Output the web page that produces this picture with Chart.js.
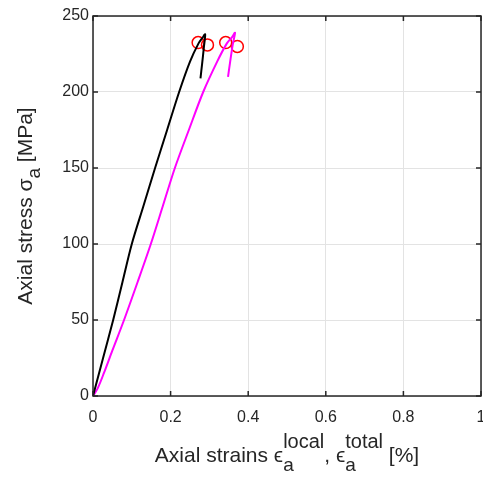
<!DOCTYPE html>
<html>
<head>
<meta charset="utf-8">
<script src="https://cdn.jsdelivr.net/npm/chart.js@4"></script>
<style>
  body { margin: 0; background: #fff; }
  #wrap { width: 483px; height: 477px; position: relative; }
</style>
</head>
<body>
<div id="wrap"><canvas id="c"></canvas></div>
<script>
// local strain (black) loading + unloading branch
const localStrain = [0, 0.026, 0.052, 0.076, 0.100, 0.130, 0.160, 0.191, 0.222, 0.250, 0.272, 0.283, 0.289, 0.286, 0.281, 0.277];
const localStress = [0, 25, 50, 75, 100, 125, 150, 175, 200, 220, 232, 236, 238, 230, 218, 209];

// total strain (magenta)
const totalStrain = [0, 0.012, 0.028, 0.050, 0.080, 0.115, 0.149, 0.180, 0.211, 0.247, 0.284, 0.320, 0.345, 0.358, 0.366, 0.360, 0.353, 0.348];
const totalStress = [0, 5, 15, 30, 50, 75, 100, 125, 150, 175, 200, 220, 232, 236, 239, 231, 219, 210];

// failure markers
const markStrain = [0.271, 0.295, 0.342, 0.372];
const markStress = [232.5, 231, 232.5, 230];

const xTicks = [0, 0.2, 0.4, 0.6, 0.8, 1];
const yTicks = [0, 50, 100, 150, 200, 250];

const toPts = (xs, ys) => xs.map((x, i) => ({ x: x, y: ys[i] }));

const FONT = "'Liberation Sans', Arial, sans-serif";
const AXIS_COLOR = '#262626';

// box, inward ticks and axis titles with sub/superscripts
const axesDecor = {
    id: 'axesDecor',
    afterDraw(chart) {
        const ctx = chart.ctx;
        const a = chart.chartArea;
        const xs = chart.scales.x, ys = chart.scales.y;
        ctx.save();
        ctx.strokeStyle = AXIS_COLOR;
        ctx.lineWidth = 1.5;
        const tl = 5;
        ctx.beginPath();
        xTicks.forEach(v => {
            const px = xs.getPixelForValue(v);
            ctx.moveTo(px, a.bottom); ctx.lineTo(px, a.bottom - tl);
            ctx.moveTo(px, a.top); ctx.lineTo(px, a.top + tl);
        });
        yTicks.forEach(v => {
            const py = ys.getPixelForValue(v);
            ctx.moveTo(a.left, py); ctx.lineTo(a.left + tl, py);
            ctx.moveTo(a.right, py); ctx.lineTo(a.right - tl, py);
        });
        ctx.stroke();
        ctx.strokeRect(a.left, a.top, a.right - a.left, a.bottom - a.top);

        ctx.fillStyle = AXIS_COLOR;
        ctx.textBaseline = 'alphabetic';
        ctx.textAlign = 'left';

        // pieces: [text, size, baseline shift, stacked-with-previous]
        const drawPieces = (pieces, cx, by) => {
            const widths = pieces.map(p => {
                ctx.font = p[1] + 'px ' + FONT;
                return ctx.measureText(p[0]).width;
            });
            const pos = [];
            let x = 0, prevStart = 0, prevW = 0;
            pieces.forEach((p, i) => {
                if (p[3]) {
                    pos.push(prevStart);
                    prevW = Math.max(prevW, widths[i]);
                    x = prevStart + prevW;
                } else {
                    pos.push(x);
                    prevStart = x;
                    prevW = widths[i];
                    x += widths[i];
                }
            });
            const x0 = cx - x / 2;
            pieces.forEach((p, i) => {
                ctx.font = p[1] + 'px ' + FONT;
                ctx.fillText(p[0], x0 + pos[i], by + p[2]);
            });
        };

        const cx = (a.left + a.right) / 2;
        drawPieces([
            ['Axial strains ', 21, 0],
            ['\u03F5', 21, 0],
            ['a', 19, 9],
            ['local', 20, -14, true],
            [', ', 21, 0],
            ['\u03F5', 21, 0],
            ['a', 19, 9],
            ['total', 20, -14, true],
            [' [%]', 21, 0]
        ], cx, 462);

        ctx.save();
        ctx.translate(32, (a.top + a.bottom) / 2);
        ctx.rotate(-Math.PI / 2);
        drawPieces([
            ['Axial stress ', 21, 0],
            ['\u03C3', 21, 0],
            ['a', 19, 8],
            [' [MPa]', 21, 0]
        ], 0, 0);
        ctx.restore();
        ctx.restore();
    }
};

new Chart(document.getElementById('c'), {
    type: 'scatter',
    data: {
        datasets: [
            {
                data: toPts(localStrain, localStress),
                showLine: true,
                borderColor: '#000000',
                borderWidth: 2,
                pointRadius: 0,
                tension: 0.3
            },
            {
                data: toPts(totalStrain, totalStress),
                showLine: true,
                borderColor: '#ff00ff',
                borderWidth: 2,
                pointRadius: 0,
                tension: 0.3
            },
            {
                data: toPts(markStrain, markStress),
                showLine: false,
                pointStyle: 'circle',
                pointRadius: 6,
                borderWidth: 1.5,
                borderColor: '#ff0000',
                backgroundColor: 'rgba(0,0,0,0)'
            }
        ]
    },
    options: {
        responsive: true,
        maintainAspectRatio: false,
        animation: false,
        events: [],
        layout: { autoPadding: false, padding: { top: 16, right: 2, left: 0, bottom: 0 } },
        plugins: {
            legend: { display: false },
            tooltip: { enabled: false }
        },
        scales: {
            x: {
                type: 'linear',
                min: 0,
                max: 1,
                afterBuildTicks: s => { s.ticks = xTicks.map(v => ({ value: v })); },
                ticks: {
                    color: AXIS_COLOR,
                    font: { family: FONT, size: 16 },
                    padding: 12,
                    maxRotation: 0,
                    callback: v => String(v)
                },
                grid: { color: '#e3e3e3', lineWidth: 1, drawTicks: false },
                border: { display: false },
                afterFit: s => { s.height = 81; s.paddingLeft = 0; s.paddingRight = 0; }
            },
            y: {
                type: 'linear',
                min: 0,
                max: 250,
                afterBuildTicks: s => { s.ticks = yTicks.map(v => ({ value: v })); },
                ticks: {
                    color: AXIS_COLOR,
                    font: { family: FONT, size: 16 },
                    padding: 4,
                    callback: v => String(v)
                },
                grid: { color: '#e3e3e3', lineWidth: 1, drawTicks: false },
                border: { display: false },
                afterFit: s => { s.width = 93; s.paddingTop = 0; s.paddingBottom = 0; }
            }
        }
    },
    plugins: [axesDecor]
});
</script>
</body>
</html>
